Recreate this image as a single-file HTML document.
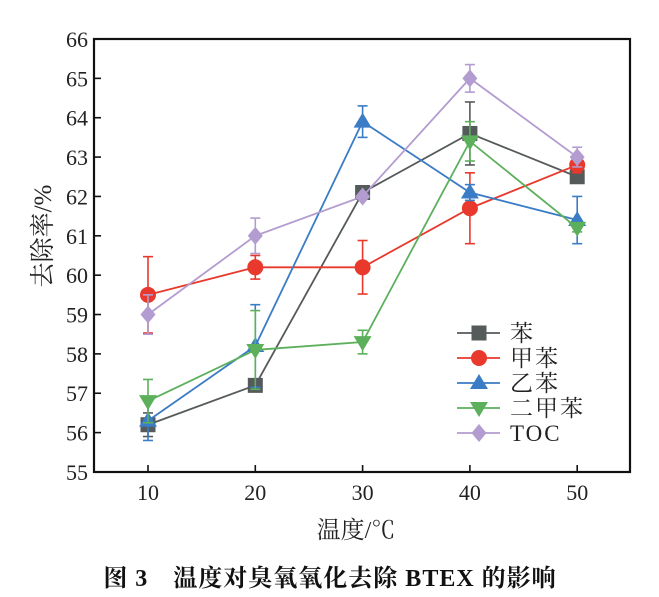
<!DOCTYPE html>
<html><head><meta charset="utf-8">
<style>
html,body{margin:0;padding:0;background:#fff;}
svg{display:block;}
text{font-family:"Liberation Serif","Noto Serif CJK SC",serif;}
</style></head>
<body>
<svg id="s" width="659" height="597" xmlns="http://www.w3.org/2000/svg"></svg>
<script>
const s=document.getElementById('s');
const X=v=>148+(v-10)*10.73, Y=v=>39+(66-v)*39.36;
let h='';
h+='<rect x="94" y="39" width="536" height="433" fill="none" stroke="#111" stroke-width="2.2"/>';
for(let v=55;v<=66;v++){const y=Y(v);h+=`<line x1="94" x2="101" y1="${y}" y2="${y}" stroke="#111" stroke-width="1.6"/><text x="88" y="${y+8}" font-size="22" text-anchor="end" fill="#222">${v}</text>`;}
for(let v=10;v<=50;v+=10){const x=X(v);h+=`<line x1="${x}" x2="${x}" y1="472" y2="465" stroke="#111" stroke-width="1.6"/><text x="${x}" y="500" font-size="22" text-anchor="middle" fill="#222">${v}</text>`;}
const xs=[10,20,30,40,50];
const S=[
 {c:'#555a5a',m:'sq',d:[56.2,57.2,62.1,63.6,62.5],e:[0.3,0.1,0.05,0.8,0.15]},
 {c:'#e8392c',m:'ci',d:[59.5,60.2,60.2,61.7,62.8],e:[0.97,0.3,0.68,0.9,0.2]},
 {c:'#3a7cc6',m:'tu',d:[56.3,58.2,63.9,62.1,61.4],e:[0.5,1.05,0.4,0.2,0.6]},
 {c:'#5cb05c',m:'td',d:[56.8,58.1,58.3,63.4,61.2],e:[0.55,1.0,0.3,0.5,0.1]},
 {c:'#b39ccf',m:'di',d:[59.0,61.0,62.0,65.0,63.0],e:[0.5,0.45,0.05,0.35,0.25]}];
function mk(m,x,y,c){
 if(m=='sq')return `<rect x="${x-7.5}" y="${y-7.5}" width="15" height="15" fill="${c}"/>`;
 if(m=='ci')return `<circle cx="${x}" cy="${y}" r="8" fill="${c}"/>`;
 if(m=='tu')return `<polygon points="${x},${y-9} ${x+9},${y+6} ${x-9},${y+6}" fill="${c}"/>`;
 if(m=='td')return `<polygon points="${x},${y+9} ${x+9},${y-6} ${x-9},${y-6}" fill="${c}"/>`;
 return `<polygon points="${x},${y-9} ${x+7.5},${y} ${x},${y+9} ${x-7.5},${y}" fill="${c}"/>`;
}
S.forEach(o=>{
 h+=`<polyline fill="none" stroke="${o.c}" stroke-width="1.8" points="${xs.map((v,i)=>X(v)+','+Y(o.d[i])).join(' ')}"/>`;
 xs.forEach((v,i)=>{const x=X(v),a=Y(o.d[i]+o.e[i]),b=Y(o.d[i]-o.e[i]);
  h+=`<g stroke="${o.c}" stroke-width="1.6"><line x1="${x}" x2="${x}" y1="${a}" y2="${b}"/><line x1="${x-5}" x2="${x+5}" y1="${a}" y2="${a}"/><line x1="${x-5}" x2="${x+5}" y1="${b}" y2="${b}"/></g>`;
  h+=mk(o.m,x,Y(o.d[i]),o.c);});
});
const L=['苯','甲苯','乙苯','二甲苯','TOC'];
L.forEach((t,i)=>{const y=333+i*25,o=S[i];
 h+=`<line x1="457" x2="500" y1="${y}" y2="${y}" stroke="${o.c}" stroke-width="1.8"/>`+mk(o.m,479,y,o.c)+
 `<text x="510" y="${y+8}" font-size="23" fill="#222" letter-spacing="2">${t}</text>`;});
h+=`<text transform="translate(51,236) rotate(-90)" font-size="25" text-anchor="middle" fill="#222">去除率/%</text>`;
h+=`<text x="356" y="538" font-size="24" text-anchor="middle" fill="#222">温度/℃</text>`;
h+=`<text x="330" y="586" font-size="24" font-weight="bold" text-anchor="middle" fill="#111" letter-spacing="1">图 3　温度对臭氧氧化去除 BTEX 的影响</text>`;
s.innerHTML=h;
</script>
</body></html>
